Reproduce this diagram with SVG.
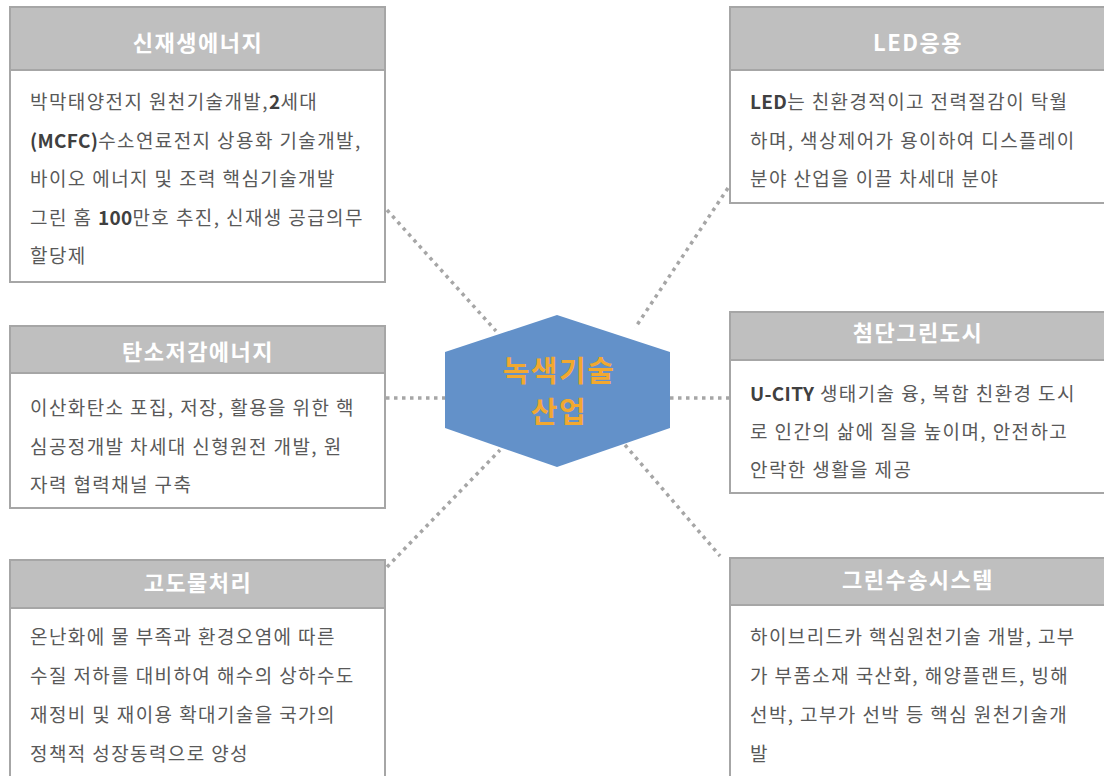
<svg xmlns="http://www.w3.org/2000/svg" width="1104" height="776" viewBox="0 0 1104 776">
<style>
.box{fill:#fff;stroke:#a6a6a6;stroke-width:2}
.hdr{fill:#bfbfbf;stroke:#a6a6a6;stroke-width:2}
.ttl{font-family:"Noto Sans CJK KR","Noto Sans",sans-serif;font-size:22px;font-weight:bold;fill:#fff;text-anchor:middle;letter-spacing:1.5px}
.body{font-family:"Noto Sans CJK KR","Noto Sans",sans-serif;font-size:19px;fill:#595959;letter-spacing:1.4px}
.b{font-weight:bold;fill:#404040;letter-spacing:0.3px}
.con{stroke:#a6a6a6;stroke-width:3.5;stroke-dasharray:3.5 4.5;fill:none}
.ctr{font-family:"Noto Sans CJK KR","Noto Sans",sans-serif;font-size:29px;font-weight:bold;fill:#f2a830;text-anchor:middle;letter-spacing:1.5px}
</style>
<rect width="1104" height="776" fill="#fff"/>
<g id="connectors">
<line class="con" x1="387" y1="210" x2="496" y2="331"/>
<line class="con" x1="728" y1="188" x2="635" y2="328"/>
<line class="con" x1="386" y1="398" x2="445" y2="398"/>
<line class="con" x1="670" y1="398" x2="729" y2="398"/>
<line class="con" x1="387" y1="567" x2="500" y2="450"/>
<line class="con" x1="625" y1="445" x2="720" y2="556"/>
</g>
<g id="center">
<polygon points="557,315 670,352 670,428 557,467 445,428 445,352" fill="#6391c9"/>
<text class="ctr" x="559" y="382">녹색기술</text>
<text class="ctr" x="559" y="423">산업</text>
</g>
<g id="n1">
<rect class="box" x="10" y="7" width="375" height="275"/>
<rect class="hdr" x="10" y="7" width="375" height="63"/>
<text class="ttl" x="198" y="51">신재생에너지</text>
<text class="body" x="30" y="109">박막태양전지 원천기술개발,<tspan class="b">2</tspan>세대</text>
<text class="body" x="30" y="147.5"><tspan class="b">(MCFC)</tspan>수소연료전지 상용화 기술개발,</text>
<text class="body" x="30" y="186">바이오 에너지 및 조력 핵심기술개발</text>
<text class="body" x="30" y="224.5">그린 홈 <tspan class="b">100</tspan>만호 추진, 신재생 공급의무</text>
<text class="body" x="30" y="263">할당제</text>
</g>
<g id="n2">
<rect class="box" x="730" y="7" width="375" height="196"/>
<rect class="hdr" x="730" y="7" width="375" height="63"/>
<text class="ttl" x="918" y="51">LED응용</text>
<text class="body" x="750" y="109"><tspan class="b">LED</tspan>는 친환경적이고 전력절감이 탁월</text>
<text class="body" x="750" y="147.5">하며, 색상제어가 용이하여 디스플레이</text>
<text class="body" x="750" y="186">분야 산업을 이끌 차세대 분야</text>
</g>
<g id="n3">
<rect class="box" x="10" y="326" width="375" height="182"/>
<rect class="hdr" x="10" y="326" width="375" height="47"/>
<text class="ttl" x="198" y="360">탄소저감에너지</text>
<text class="body" x="30" y="415">이산화탄소 포집, 저장, 활용을 위한 핵</text>
<text class="body" x="30" y="453.5">심공정개발 차세대 신형원전 개발, 원</text>
<text class="body" x="30" y="492">자력 협력채널 구축</text>
</g>
<g id="n4">
<rect class="box" x="730" y="312" width="375" height="181"/>
<rect class="hdr" x="730" y="312" width="375" height="48"/>
<text class="ttl" x="918" y="341">첨단그린도시</text>
<text class="body" x="750" y="401"><tspan class="b">U-CITY</tspan> 생태기술 융, 복합 친환경 도시</text>
<text class="body" x="750" y="439">로 인간의 삶에 질을 높이며, 안전하고</text>
<text class="body" x="750" y="477">안락한 생활을 제공</text>
</g>
<g id="n5">
<rect class="box" x="10" y="560" width="375" height="240"/>
<rect class="hdr" x="10" y="560" width="375" height="48"/>
<text class="ttl" x="198" y="591">고도물처리</text>
<text class="body" x="30" y="644">온난화에 물 부족과 환경오염에 따른</text>
<text class="body" x="30" y="683">수질 저하를 대비하여 해수의 상하수도</text>
<text class="body" x="30" y="722">재정비 및 재이용 확대기술을 국가의</text>
<text class="body" x="30" y="761">정책적 성장동력으로 양성</text>
</g>
<g id="n6">
<rect class="box" x="730" y="558" width="375" height="240"/>
<rect class="hdr" x="730" y="558" width="375" height="47"/>
<text class="ttl" x="918" y="588">그린수송시스템</text>
<text class="body" x="750" y="644">하이브리드카 핵심원천기술 개발, 고부</text>
<text class="body" x="750" y="683">가 부품소재 국산화, 해양플랜트, 빙해</text>
<text class="body" x="750" y="722">선박, 고부가 선박 등 핵심 원천기술개</text>
<text class="body" x="750" y="761">발</text>
</g>
</svg>
